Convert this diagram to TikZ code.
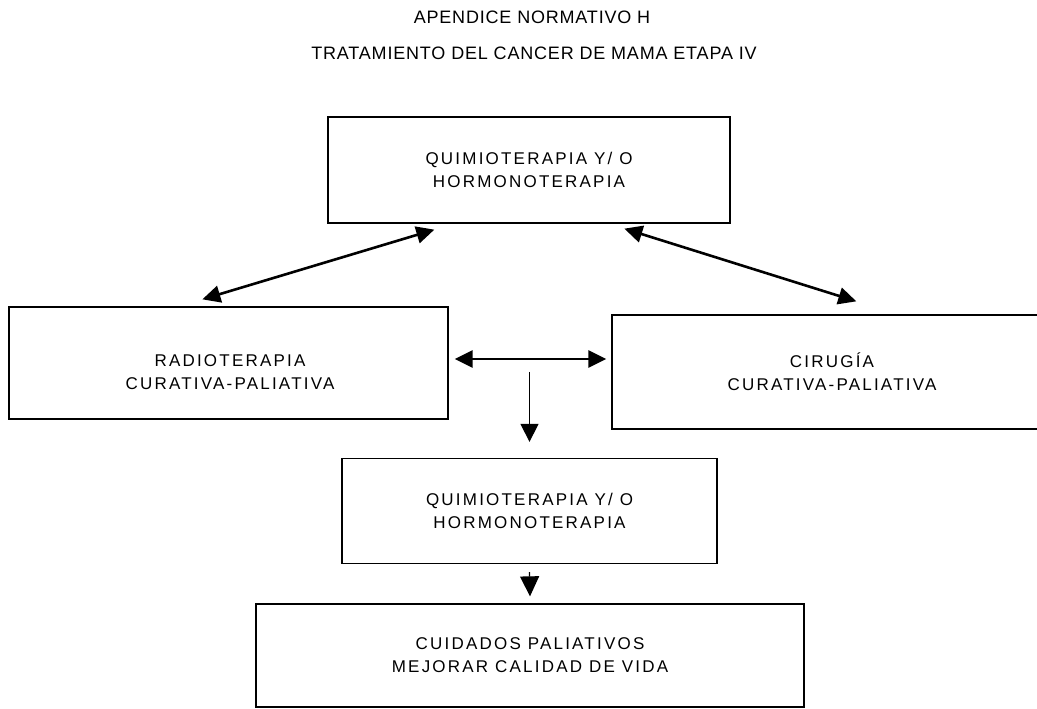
\documentclass[tikz,border=0pt]{standalone}
\usepackage{fontspec}
\setmainfont{Liberation Sans}
\newfontfamily\boxfont[LetterSpace=13]{Liberation Sans}
\newfontfamily\titlefont[LetterSpace=4.5]{Liberation Sans}
\usetikzlibrary{arrows.meta,calc}
\tikzset{
  boxnode/.style={draw, line width=1.3bp, inner sep=0pt, align=center,
    font={\boxfont\fontsize{17bp}{23bp}\selectfont}},
  boxtext/.style={inner sep=0pt, align=center,
    font={\boxfont\fontsize{17bp}{23bp}\selectfont}},
  titletext/.style={inner sep=0pt, font={\titlefont\fontsize{18bp}{22bp}\selectfont}},
  thickarr/.style={line width=2.6bp, {Triangle[length=18bp,width=17bp]}-{Triangle[length=18bp,width=17bp]}},
  thinarr/.style={line width=1.3bp, -{Triangle[length=18bp,width=18bp]}},
  shortarr/.style={line width=1.3bp, -{Triangle[length=20bp,width=19bp]}}
}
\begin{document}
\begin{tikzpicture}[x=1bp,y=-1bp]
\useasboundingbox (0,0) rectangle (1037,709);
\fill[white] (0,0) rectangle (1037,709);
\clip (0,0) rectangle (1037,709);
% titles
\node[titletext] (title1) at (532,17) {APENDICE NORMATIVO H};
\node[titletext] (title2) at (534,53) {TRATAMIENTO DEL CANCER DE MAMA ETAPA IV};
% boxes
\node[boxnode, minimum width=402bp, minimum height=106bp] (quimio1) at (529,170)
  {QUIMIOTERAPIA Y/ O\\HORMONOTERAPIA};
\node[boxnode, minimum width=439bp, minimum height=112bp] (radio) at (228.5,363) {};
\node[boxtext] (radiotext) at (230,372) {RADIOTERAPIA\\CURATIVA-PALIATIVA};
\node[boxnode, minimum width=440bp, minimum height=114bp] (cirugia) at (832,372)
  {CIRUGÍA\\CURATIVA-PALIATIVA};
\node[boxnode, minimum width=375bp, minimum height=105bp] (quimio2) at (529.5,511)
  {QUIMIOTERAPIA Y/ O\\HORMONOTERAPIA};
\node[boxnode, minimum width=548bp, minimum height=103bp] (cuidados) at (530,655.5)
  {CUIDADOS PALIATIVOS\\MEJORAR CALIDAD DE VIDA};
% connector ends
\coordinate (d1a) at ($(radio.north west)+(194,-7)$);
\coordinate (d1b) at ($(quimio1.south west)+(107,6)$);
\coordinate (d2a) at ($(quimio1.south west)+(297,5)$);
\coordinate (d2b) at ($(cirugia.north west)+(245,-13)$);
\coordinate (h1) at ($(radio.east)+(6,-4)$);
\coordinate (h2) at ($(cirugia.west)+(-5,-13)$);
\coordinate (v1) at ($(quimio2.north)+(0,-86)$);
\coordinate (v2) at ($(quimio2.north)+(0,-16)$);
\coordinate (s1) at ($(quimio2.south)+(0,8)$);
\coordinate (s2) at ($(cuidados.north)+(0,-7)$);
% connectors
\draw[thickarr] (d1a) -- (d1b);
\draw[thickarr] (d2a) -- (d2b);
\draw[thickarr] (h1) -- (h2);
\draw[thinarr] (v1) -- (v2);
\draw[shortarr] (s1) -- (s2);
\end{tikzpicture}
\end{document}
